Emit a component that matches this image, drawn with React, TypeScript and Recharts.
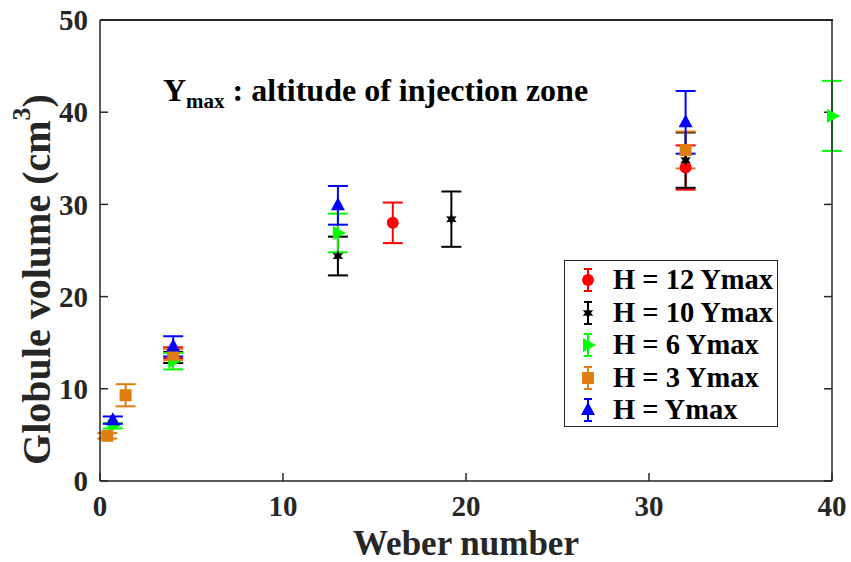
import React from "react";
import { ScatterChart, Scatter, XAxis, YAxis, ErrorBar, Label, Legend } from "recharts";

const weberTicks = [0, 10, 20, 30, 40];
const volumeTicks = [0, 10, 20, 30, 40, 50];

// H = 12 Ymax
const h12We = [4, 16, 32];
const h12Vol = [13.9, 28.0, 34.0];
const h12Err = [0.6, 2.2, 2.4];

// H = 10 Ymax
const h10We = [4, 13, 19.2, 32];
const h10Vol = [13.4, 24.4, 28.4, 34.8];
const h10Err = [0.6, 2.1, 3.0, 3.0];

// H = 6 Ymax
const h6We = [0.7, 4, 13, 40];
const h6Vol = [6.0, 13.0, 26.9, 39.6];
const h6Err = [0.3, 0.9, 2.1, 3.8];

// H = 3 Ymax
const h3We = [0.4, 1.4, 4, 32];
const h3Vol = [4.9, 9.3, 13.7, 35.9];
const h3Err = [0.3, 1.2, 0.6, 2.0];

// H = Ymax
const h1We = [0.7, 4, 13, 32];
const h1Vol = [6.6, 14.6, 29.9, 38.9];
const h1Err = [0.4, 1.1, 2.1, 3.4];

const FONT = '"Liberation Serif", "Times New Roman", serif';
const AXIS = "#262626";

const toPoints = (we: number[], vol: number[], err: number[]) =>
  we.map((w, i) => ({ we: w, vol: vol[i], err: err[i] }));

const circleShape = (p: any) => <circle cx={p.cx} cy={p.cy} r={6} fill={p.fill} />;
const squareShape = (p: any) => <rect x={p.cx - 6} y={p.cy - 6} width={12} height={12} fill={p.fill} />;
const upShape = (p: any) => (
  <polygon points={`${p.cx},${p.cy - 8} ${p.cx - 7},${p.cy + 5} ${p.cx + 7},${p.cy + 5}`} fill={p.fill} />
);
const rightShape = (p: any) => (
  <polygon points={`${p.cx + 8},${p.cy} ${p.cx - 5},${p.cy - 7} ${p.cx - 5},${p.cy + 7}`} fill={p.fill} />
);
const starShape = (p: any) => {
  const pts: string[] = [];
  for (let k = 0; k < 12; k++) {
    const r = k % 2 === 0 ? 6 : 3;
    const a = (Math.PI / 6) * k - Math.PI / 2;
    pts.push(`${p.cx + r * Math.cos(a)},${p.cy + r * Math.sin(a)}`);
  }
  return <polygon points={pts.join(" ")} fill={p.fill} />;
};
const noShape = () => <g />;
const noTick = () => <g />;

const series = [
  { name: "H = 12 Ymax", color: "#ff0000", shape: circleShape, data: toPoints(h12We, h12Vol, h12Err) },
  { name: "H = 10 Ymax", color: "#000000", shape: starShape, data: toPoints(h10We, h10Vol, h10Err) },
  { name: "H = 6 Ymax", color: "#00ff00", shape: rightShape, data: toPoints(h6We, h6Vol, h6Err) },
  { name: "H = 3 Ymax", color: "#e07d10", shape: squareShape, data: toPoints(h3We, h3Vol, h3Err) },
  { name: "H = Ymax", color: "#0000ff", shape: upShape, data: toPoints(h1We, h1Vol, h1Err) },
];

function LegendBox() {
  return (
    <div
      style={{
        width: 214,
        height: 167,
        border: `1.5px solid ${AXIS}`,
        background: "#fff",
        boxSizing: "border-box",
        paddingTop: 3,
        fontFamily: FONT,
        fontWeight: "bold",
        fontSize: 28.5,
      }}
    >
      {series.map((s) => (
        <div key={s.name} style={{ display: "flex", alignItems: "center", height: 32.5 }}>
          <svg width={48} height={30} style={{ flex: "none" }}>
            <line x1={23} y1={4} x2={23} y2={26} stroke={s.color} strokeWidth={2} />
            <line x1={19} y1={4} x2={27} y2={4} stroke={s.color} strokeWidth={2} />
            <line x1={19} y1={26} x2={27} y2={26} stroke={s.color} strokeWidth={2} />
            {s.shape({ cx: 23, cy: 15, fill: s.color })}
          </svg>
          <span style={{ color: "#000", whiteSpace: "nowrap" }}>{s.name}</span>
        </div>
      ))}
    </div>
  );
}

const yLabel = (props: any) => {
  const vb = props.viewBox || { x: 0, y: 20, width: 100, height: 461 };
  const cx = vb.x + 36;
  const cy = vb.y + vb.height / 2 + 29;
  return (
    <text
      x={cx}
      y={cy}
      transform={`rotate(-90, ${cx}, ${cy})`}
      textAnchor="middle"
      dominantBaseline="central"
      fontFamily={FONT}
      fontWeight="bold"
      fontSize={40}
      fill={AXIS}
    >
      Globule volume (cm
      <tspan dy={-15} fontSize={26}>3</tspan>
      <tspan dy={15}>)</tspan>
    </text>
  );
};

const xLabel = (props: any) => {
  const vb = props.viewBox || { x: 100, y: 481, width: 732, height: 81 };
  return (
    <text
      x={vb.x + vb.width / 2}
      y={543}
      textAnchor="middle"
      dominantBaseline="central"
      fontFamily={FONT}
      fontWeight="bold"
      fontSize={35}
      fill={AXIS}
    >
      Weber number
    </text>
  );
};

const tickStyle = { fontFamily: FONT, fontWeight: "bold", fontSize: 29, fill: AXIS };

export default function App() {
  return (
    <div style={{ position: "absolute", left: 0, top: 0, width: 851, height: 562, background: "#fff" }}>
      <ScatterChart width={851} height={562} margin={{ top: 20, right: 18, bottom: 0, left: 0 }}>
        <XAxis
          dataKey="we"
          type="number"
          domain={[0, 40]}
          ticks={weberTicks}
          height={81}
          stroke={AXIS}
          strokeWidth={1.5}
          tickSize={-8}
          tickMargin={22}
          tick={tickStyle}
        >
          <Label content={xLabel} />
        </XAxis>
        <YAxis
          dataKey="vol"
          type="number"
          domain={[0, 50]}
          ticks={volumeTicks}
          width={100}
          stroke={AXIS}
          strokeWidth={1.5}
          tickSize={-8}
          tickMargin={20}
          tick={tickStyle}
        >
          <Label content={yLabel} />
        </YAxis>
        <YAxis
          yAxisId="right"
          dataKey="vol"
          orientation="right"
          type="number"
          domain={[0, 50]}
          ticks={volumeTicks}
          width={1}
          stroke={AXIS}
          strokeWidth={1.5}
          tickSize={-8}
          tick={noTick}
        />
        {/* invisible copy so the right box edge gets drawn */}
        <Scatter
          yAxisId="right"
          data={series[4].data}
          shape={noShape}
          legendType="none"
          isAnimationActive={false}
        />
        {series.map((s) => (
          <Scatter
            key={s.name}
            name={s.name}
            data={s.data}
            fill={s.color}
            shape={s.shape}
            isAnimationActive={false}
          >
            <ErrorBar dataKey="err" direction="y" width={10} stroke={s.color} strokeWidth={2} />
          </Scatter>
        ))}
        <Legend
          layout="vertical"
          align="center"
          verticalAlign="middle"
          content={() => <LegendBox />}
          wrapperStyle={{ position: "absolute", left: 564, top: 260, width: 214, height: 167 }}
        />
      </ScatterChart>
      {/* top edge of the axes box */}
      <svg
        width={851}
        height={30}
        style={{ position: "absolute", left: 0, top: 0, pointerEvents: "none", zIndex: 5 }}
      >
        <rect x={100} y={19} width={733} height={2} fill={AXIS} />
      </svg>
      <div
        style={{
          position: "absolute",
          left: 163,
          top: 74,
          fontFamily: FONT,
          fontWeight: "bold",
          fontSize: 32,
          color: "#000",
          whiteSpace: "nowrap",
          lineHeight: 1,
        }}
      >
        Y<sub style={{ fontSize: 21 }}>max</sub> : altitude of injection zone
      </div>
    </div>
  );
}
